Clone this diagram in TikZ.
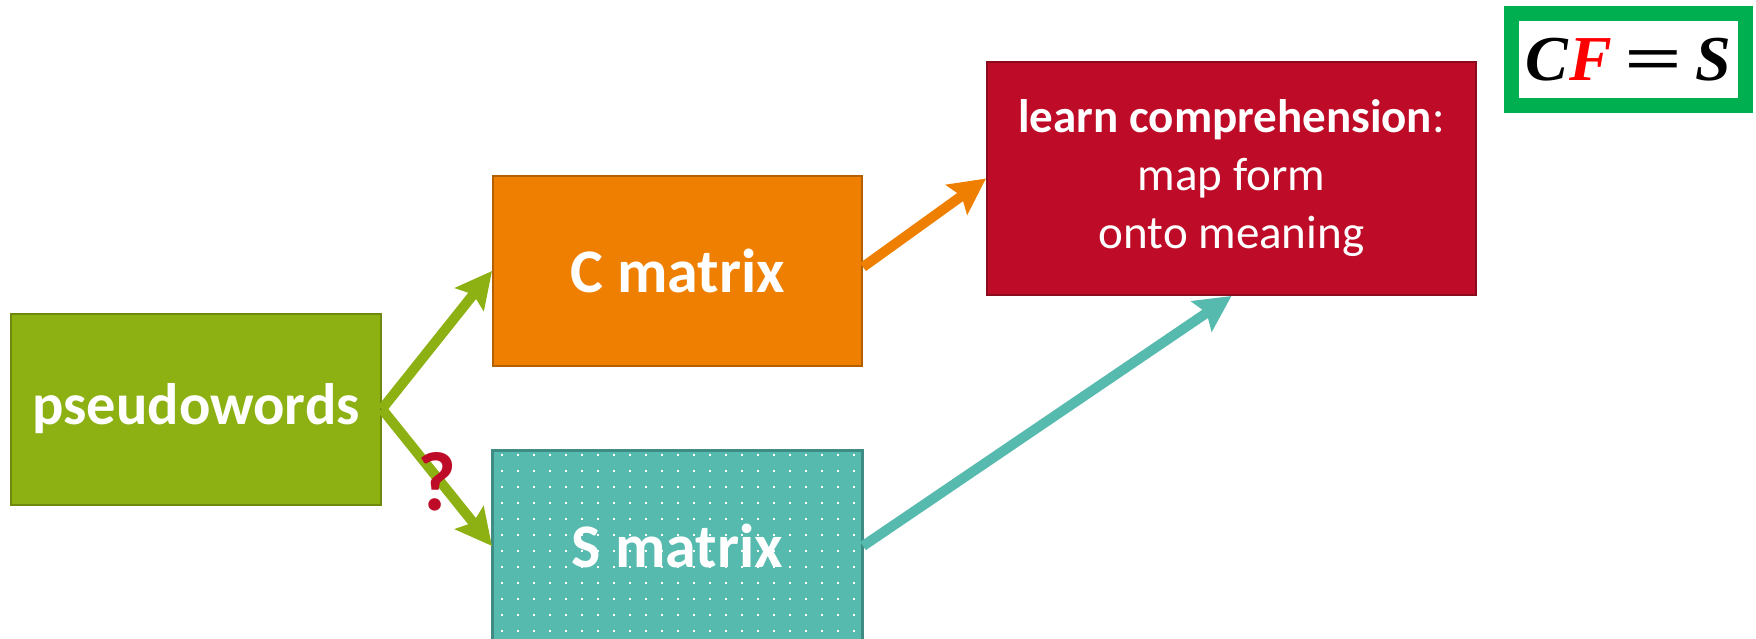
\documentclass[tikz,border=0pt]{standalone}
\usepackage{fontspec}
\setmainfont{Carlito}
\newfontfamily\eqfont{Liberation Serif}
\usetikzlibrary{arrows.meta}
\definecolor{pwgreen}{RGB}{141,176,19}
\definecolor{pwborder}{RGB}{110,137,14}
\definecolor{corange}{RGB}{239,127,0}
\definecolor{cborder}{RGB}{180,95,0}
\definecolor{lcred}{RGB}{190,12,40}
\definecolor{lcborder}{RGB}{140,10,30}
\definecolor{steal}{RGB}{87,186,174}
\definecolor{sborder}{RGB}{62,140,131}
\definecolor{eqgreen}{RGB}{0,176,80}
\tikzset{
  box/.style={rectangle, draw, line width=2pt, text=white, align=center, inner sep=0pt},
  bigtxt/.style={font=\fontsize{62}{72}\selectfont\bfseries},
  conn/.style={line width=10pt, -{Stealth[length=36pt, width=36pt, inset=6pt]}},
}
\begin{document}
\begin{tikzpicture}[x=1pt, y=-1pt]
\useasboundingbox (0,0) rectangle (1756,639);
\node[box, font=\fontsize{58.5}{70}\selectfont\bfseries, fill=pwgreen, draw=pwborder, minimum width=370pt, minimum height=191pt] (pw) at (196,409) {pseudowords};
\node[box, bigtxt, fill=corange, draw=cborder, minimum width=369pt, minimum height=190pt] (cm) at (677.5,271) {C matrix};
\node[box, fill=steal, draw=sborder, minimum width=369pt, minimum height=190pt] (sm) at (677.5,546) {};
\begin{scope}
  \clip (sm.south west) rectangle (sm.north east);
  \foreach \i in {0,...,22} {
    \foreach \j in {0,...,11} {
      \fill[white] ({502+16*\i-1.3},{455+16*\j-1.3}) rectangle ++(2.6,2.6);
    }
  }
\end{scope}
\draw[sborder, line width=2pt] (sm.south west) rectangle (sm.north east);
\node[bigtxt, text=white] (smt) at (sm.center) {S matrix};
\node[box, fill=lcred, draw=lcborder, minimum width=489pt, minimum height=233pt,
      font=\fontsize{47}{58}\selectfont] (lc) at (1231.5,178.5)
      {\textbf{learn comprehension}:\\map form\\onto meaning};
\node[rectangle, draw=eqgreen, line width=15pt, fill=white, minimum width=234pt, minimum height=92pt, inner sep=0pt,
      font=\fontsize{64}{68}\selectfont\eqfont\bfseries] (eq) at (1628.5,59.5)
      {\textit{C}\textcolor{red}{\textit{F}}\hspace{0.2em}\scalebox{1.6}[1]{=}\hspace{0.2em}\textit{S}};
\draw[conn, pwgreen] (pw.east) -- (cm.west);
\draw[conn, pwgreen] (pw.east) -- (sm.west);
\draw[conn, corange] ([yshift=4pt]cm.east) -- (lc.west);
\draw[conn, steal] (sm.east) -- (lc.south);
\node[text=lcred, font=\fontsize{84}{90}\selectfont\bfseries] (q) at (437,482) {?};
\end{tikzpicture}
\end{document}
